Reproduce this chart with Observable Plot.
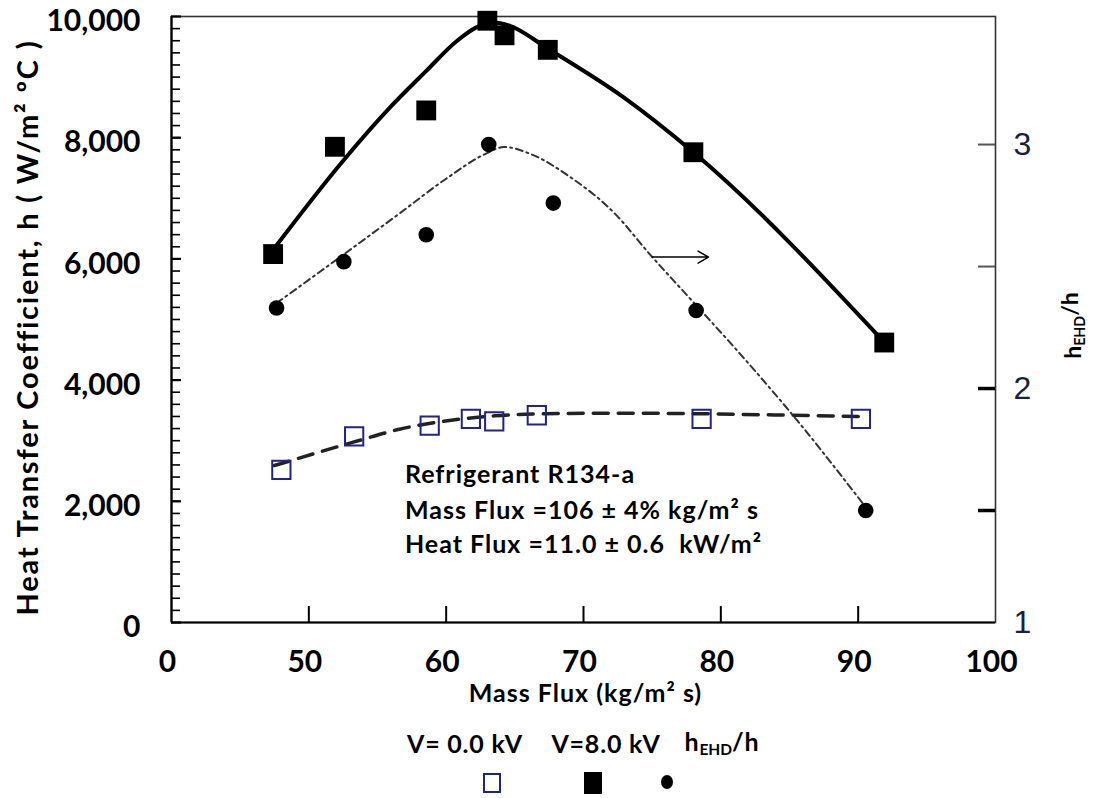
<!DOCTYPE html>
<html><head><meta charset="utf-8">
<script src="https://cdn.jsdelivr.net/npm/d3@7"></script>
<script src="https://cdn.jsdelivr.net/npm/@observablehq/plot@0.6"></script>
<style>
body{margin:0;background:#fff;}
#wrap{position:relative;width:1093px;}
#legend{position:relative;width:1093px;height:78px;}
.lg{position:absolute;font-family:Lato,sans-serif;font-weight:bold;font-size:25px;letter-spacing:0.8px;color:#000;white-space:nowrap;transform:translate(-50%,-50%);line-height:1;}
.lg sub{font-size:0.62em;vertical-align:-0.25em;letter-spacing:0;}
.sym{position:absolute;transform:translate(-50%,-50%);box-sizing:border-box;}
</style></head><body><div id="wrap"></div>
<script>
// ---- data ----
// V = 8.0 kV (filled squares)
const massFluxV8 = [47.4, 51.9, 58.55, 63.0, 64.25, 67.4, 78.0, 91.9];
const hV8        = [6080, 7850, 8450, 9930, 9690, 9450, 7760, 4620];
// V = 0.0 kV (open squares)
const massFluxV0 = [48.0, 53.3, 58.8, 61.8, 63.5, 66.6, 78.6, 90.2];
const hV0        = [2520, 3070, 3250, 3360, 3320, 3420, 3360, 3360];
// h_EHD/h (filled circles, right axis)
const massFluxR  = [47.65, 52.55, 58.55, 63.1, 67.8, 78.2, 90.55];
const ratioR     = [2.33, 2.52, 2.63, 3.00, 2.76, 2.32, 1.50];
// fitted curves
const fitV8X = [47.4, 52.5, 56.0, 58.5, 60.8, 62.2, 63.4, 64.6, 67.4, 72.9, 78.0, 91.9];
const fitV8H = [6150, 7620, 8520, 9090, 9600, 9820, 9900, 9850, 9470, 8670, 7760, 4625];
const fitV0X = [47.5, 53.3, 56.6, 60.1, 63.5, 67.3, 72.0, 78.5, 84.0, 90.2];
const fitV0H = [2590, 2980, 3190, 3330, 3410, 3445, 3455, 3445, 3425, 3400];
const fitRX  = [47.65, 52.55, 56.66, 60.0, 62.8, 64.2, 66.2, 68.95, 72.3, 74.8, 77.9, 80.96, 85.4, 90.6];
const fitR   = [2.35, 2.55, 2.72, 2.86, 2.96, 2.99, 2.96, 2.87, 2.716, 2.552, 2.36, 2.17, 1.88, 1.51];
// axes
const xTicks = [40, 50, 60, 70, 80, 90, 100];
const xTickLabels = ["0", "50", "60", "70", "80", "90", "100"];
const xTickMarks = [50, 60, 70, 80, 90];
const yMajor = [0, 2000, 4000, 6000, 8000, 10000];
const yMinor = d3.range(200, 10000, 200);
const rThinTicks = [2.5, 3];
const rThickTicks = [1.5, 2];
const rLabelValues = [1.04, 2, 3];
const rLabels = ["1", "2", "3"];
// arrow pointing to right axis
const arrowX = [75.0, 79.1];
const arrowH = 6030;
// annotation
const noteLines = ["Refrigerant R134-a", "Mass Flux =106 \u00b1 4% kg/m\u00b2 s", "Heat Flux =11.0 \u00b1 0.6  kW/m\u00b2"];
const noteX = 57.0;
const noteH = [2426, 1848, 1271];
const yTitle = "Heat Transfer Coefficient, h ( W/m\u00b2 \u00baC )";
const xTitle = "Mass Flux (kg/m\u00b2 s)";
const rTitle = "hEHD/h";

// right axis (ratio) expressed on the left-axis scale
const toH = d3.scaleLinear().domain([2, 3]).range([3861, 7887]);

const v8 = massFluxV8.map((x, i) => ({x, y: hV8[i]}));
const v0 = massFluxV0.map((x, i) => ({x, y: hV0[i]}));
const rr = massFluxR.map((x, i) => ({x, y: toH(ratioR[i])}));
const fv8 = fitV8X.map((x, i) => ({x, y: fitV8H[i]}));
const fv0 = fitV0X.map((x, i) => ({x, y: fitV0H[i]}));
const fr = fitRX.map((x, i) => ({x, y: toH(fitR[i])}));
const notes = noteLines.map((t, i) => ({t, x: noteX, y: noteH[i]}));
const xLab = new Map(xTicks.map((t, i) => [t, xTickLabels[i]]));
const rLab = new Map(rLabelValues.map((v, i) => [toH(v), rLabels[i]]));

const W = 1093, H = 720, mL = 171, mR = 98, mT = 16, mB = 98;
const fw = W - mL - mR, fh = H - mT - mB; // frame size, used to make short inward ticks

const plot = Plot.plot({
  width: W, height: H,
  marginLeft: mL, marginRight: mR, marginTop: mT, marginBottom: mB,
  x: {domain: [40, 100]},
  y: {domain: [0, 10000]},
  style: {fontFamily: "Lato, sans-serif", fontWeight: "bold", color: "#000", background: "#fff", overflow: "visible"},
  marks: [
    Plot.frame({stroke: "#333", strokeWidth: 1.6}),
    // left ticks (inward)
    Plot.ruleY(yMinor, {y: d => d, insetRight: fw - 9, stroke: "#000", strokeWidth: 1.6}),
    Plot.ruleY(yMajor, {y: d => d, insetRight: fw - 10, stroke: "#000", strokeWidth: 2.2}),
    Plot.axisY(yMajor, {anchor: "left", tickSize: 0, tickPadding: 31, tickFormat: d3.format(","), fontSize: 30, dy: 5, label: null}),
    // bottom ticks (inward)
    Plot.ruleX(xTickMarks, {x: d => d, insetTop: fh - 16, stroke: "#000", strokeWidth: 2}),
    Plot.axisX(xTicks, {anchor: "bottom", tickSize: 0, tickPadding: 28, tickFormat: d => xLab.get(d), fontSize: 30, dx: -4, label: null}),
    // right axis (h_EHD/h)
    Plot.ruleY(rThinTicks.map(toH), {y: d => d, insetLeft: fw - 17, stroke: "#555", strokeWidth: 2}),
    Plot.ruleY(rThickTicks.map(toH), {y: d => d, insetLeft: fw - 17, stroke: "#000", strokeWidth: 3.5}),
    Plot.axisY([...rLab.keys()], {anchor: "right", tickSize: 0, tickPadding: 18, tickFormat: d => rLab.get(d), fontSize: 32, fontWeight: "normal", fontFamily: "Liberation Sans, Arial, sans-serif", fill: "#1c1f38", label: null}),
    Plot.ruleX([40], {strokeWidth: 2.2}),
    Plot.ruleY([0], {strokeWidth: 2.2}),
    // fitted curves
    Plot.line(fv0, {x: "x", y: "y", stroke: "#222", strokeWidth: 3.5, strokeDasharray: "15,10", curve: "monotone-x"}),
    Plot.line(fr, {x: "x", y: "y", stroke: "#333", strokeWidth: 2, strokeDasharray: "7,4,2,4", curve: "monotone-x"}),
    Plot.line(fv8, {x: "x", y: "y", stroke: "#000", strokeWidth: 4, curve: "monotone-x"}),
    Plot.arrow([{x1: arrowX[0], x2: arrowX[1], y1: arrowH, y2: arrowH}], {x1: "x1", x2: "x2", y1: "y1", y2: "y2", stroke: "#000", strokeWidth: 1.5, headLength: 12, bend: 0}),
    // points
    Plot.dot(v0, {x: "x", y: "y", symbol: "square", r: 10.3, stroke: "#22228c", strokeWidth: 2, fill: "none"}),
    Plot.dot(v8, {x: "x", y: "y", symbol: "square", r: 11.2, fill: "#000", stroke: "none"}),
    Plot.dot(rr, {x: "x", y: "y", r: 7.8, fill: "#000", stroke: "none"}),
    // texts
    Plot.text(notes, {x: "x", y: "y", text: "t", textAnchor: "start", fontSize: 25}),
    Plot.text([yTitle], {text: d => d, frameAnchor: "left", textAnchor: "middle", rotate: -90, dx: -143, dy: 8, fontSize: 29}),
    Plot.text([xTitle], {text: d => d, frameAnchor: "bottom", textAnchor: "middle", dy: 79, dx: 2, fontSize: 25}),
    Plot.text([rTitle], {text: d => d, frameAnchor: "right", textAnchor: "middle", rotate: -90, dx: 78, dy: 6, fontSize: 23})
  ]
});

const svg = d3.select(plot);
// letter spacing to approximate the original (wider) lettering
const spacing = new Map([[yTitle, 1.8], [xTitle, 1], ...noteLines.map(t => [t, 1])]);
svg.selectAll("text").each(function() {
  const s = spacing.get(this.textContent);
  if (s != null) d3.select(this).attr("letter-spacing", s);
});
// subscript for h_EHD/h
svg.selectAll("text").filter(function() { return this.textContent === rTitle; }).each(function() {
  const t = d3.select(this);
  t.text(null);
  t.append("tspan").text("h");
  t.append("tspan").attr("font-size", "0.62em").attr("dy", "0.3em").text("EHD");
  t.append("tspan").attr("dy", "-0.3em").text("/h");
});

const wrap = document.getElementById("wrap");
wrap.appendChild(plot);

// legend below the chart
const legend = document.createElement("div");
legend.id = "legend";
legend.innerHTML = `
  <div class="lg" style="left:465px;top:23px">V= 0.0 kV</div>
  <div class="lg" style="left:606px;top:23px">V=8.0 kV</div>
  <div class="lg" style="left:722px;top:23px">h<sub>EHD</sub>/h</div>
  <div class="sym" style="left:492px;top:63px;width:18px;height:20px;border:2px solid #22228c"></div>
  <div class="sym" style="left:593px;top:63px;width:18px;height:22px;background:#000"></div>
  <div class="sym" style="left:667px;top:62px;width:12px;height:14px;background:#000;border-radius:50%"></div>`;
wrap.appendChild(legend);
</script>
</body></html>
